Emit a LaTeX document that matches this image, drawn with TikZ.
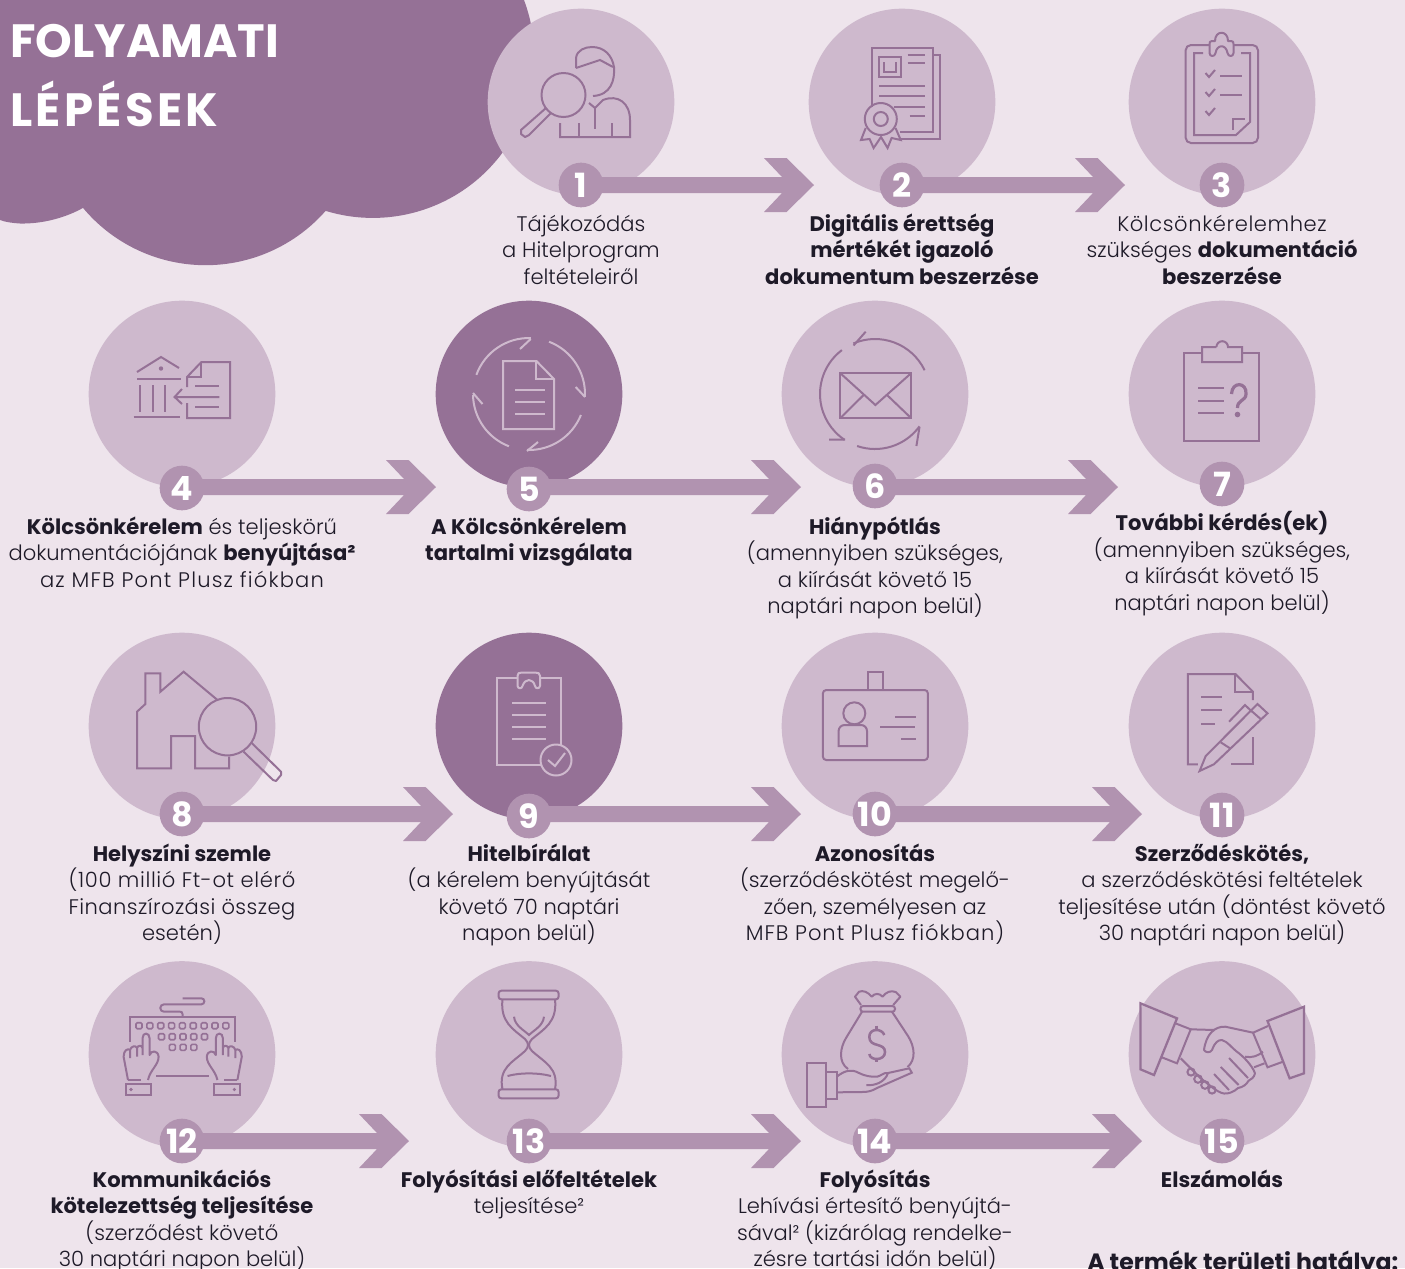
\documentclass[tikz,border=0pt]{standalone}
\usepackage{fontspec}
\setmainfont{Poppins Light}[BoldFont={Poppins Bold}]
\usetikzlibrary{calc}
\definecolor{pagebg}{HTML}{EEE4EC}
\definecolor{darkp}{HTML}{957196}
\definecolor{lightp}{HTML}{CEB9CD}
\definecolor{midp}{HTML}{B193B0}
\definecolor{inkc}{HTML}{1E1A28}
\pgfdeclarelayer{under}
\pgfsetlayers{under,main}
\newcommand{\tfont}{\fontsize{15.8}{19.875}\selectfont\lineskiplimit=-20pt\relax}
\newcommand{\spaced}[2]{{\addfontfeature{LetterSpace=#1}#2}}
\tikzset{
 stepdisc/.style={circle,fill=lightp,minimum size=140pt,inner sep=0pt},
 stepdiscdark/.style={stepdisc,fill=darkp},
 badge/.style={circle,fill=midp,minimum size=33.5pt,inner sep=0pt,text=white,font=\fontsize{25}{25}\selectfont\bfseries},
 steplabel/.style={anchor=north,align=center,inner sep=0pt,text=inkc,font=\tfont},
 ico/.style={draw=darkp,line width=1.5pt},
 icol/.style={draw=lightp,line width=1.5pt},
 titletext/.style={anchor=base west,inner sep=0pt,text=white,font=\fontsize{35}{35}\selectfont\bfseries},
}
\newcommand{\steptext}[4]{\node[steplabel] (#1) at (#2,{#3-18.55}) {\strut #4};}
\newcommand{\chevronarrow}[2]{%
 \fill[midp] ($(#1.center |- #2)+(0,-8)$) -- ([shift={(-32,-8)}]#2) -- ([shift={(-50,-27)}]#2) -- ([shift={(-27.5,-27)}]#2) -- (#2) -- ([shift={(-27.5,27)}]#2) -- ([shift={(-50,27)}]#2) -- ([shift={(-32,8)}]#2) -- ($(#1.center |- #2)+(0,8)$) -- cycle;}
\newcommand{\ringarc}[6]{\draw[#1] (#2,#3) ++(#5:#4) arc[start angle=#5,end angle=#6,radius=#4];}
\begin{document}
\begin{tikzpicture}[x=0.75pt,y=-0.75pt]
\clip (0,0) rectangle (1405,1268);
\begin{pgfonlayer}{under}
\fill[pagebg] (0,0) rectangle (1405,1268);
% cloud
\fill[darkp] (0,0) -- (524,0) arc[start angle=-20.5,end angle=107,radius=161.4]
  arc[start angle=41.3,end angle=140.1,radius=159.8]
  .. controls (65,218) and (42,224) .. (20,223.5) .. controls (12,223) and (5,222) .. (0,220) -- cycle;
% discs
\node[stepdisc] (d1) at (581,102) {};
\node[stepdisc] (d2) at (902,102) {};
\node[stepdisc] (d3) at (1222,102) {};
\node[stepdisc] (d4) at (182,394) {};
\node[stepdiscdark] (d5) at (529,394) {};
\node[stepdisc] (d6) at (875,394) {};
\node[stepdisc] (d7) at (1222,394) {};
\node[stepdisc] (d8) at (182,726) {};
\node[stepdiscdark] (d9) at (529,726) {};
\node[stepdisc] (d10) at (875,726) {};
\node[stepdisc] (d11) at (1222,726) {};
\node[stepdisc] (d12) at (182,1054.5) {};
\node[stepdisc] (d13) at (529,1054.5) {};
\node[stepdisc] (d14) at (875,1054.5) {};
\node[stepdisc] (d15) at (1222,1054.5) {};
% icon 1
\draw[ico] (563.5,95) circle (22);
\draw[ico,line join=round] (546,108) -- (521,130) -- (521,134) -- (525,137) -- (529,135) -- (551,113);
\draw[ico] (576,68) -- (576,58) .. controls (577,50) and (585,47) .. (592,47) .. controls (604,47) and (612,55) .. (614,67) .. controls (615,80) and (611,95) .. (593,96);
\draw[ico] (576,68) -- (600,60) -- (613,67);
\draw[ico] (589,103) -- (595,108) -- (603,100) .. controls (618,94) and (630,103) .. (630,120) -- (630,137) -- (560,137) -- (560,123);
\draw[ico] (579,123) -- (579,137) (595,108) -- (595,129) (612,123) -- (612,137);
% icon 2
\draw[ico] (932.6,55) -- (940,55) -- (940,139) -- (899.5,139);
\draw[ico] (871.6,107) -- (871.6,48) -- (932.6,48) -- (932.6,132) -- (899.5,132);
\draw[ico] (879,57) rectangle (901,77);
\draw[ico] (884.4,62) -- (884.4,72) -- (895.5,72) -- (895.5,62);
\draw[ico] (907.5,55) -- (925.4,55) (907.5,63) -- (925.4,63) (879,86) -- (925.4,86) (879,96) -- (925.4,96) (893.5,107) -- (925.4,107) (909.5,116) -- (925.4,116);
\draw[ico] (880.8,119) circle (16) (880.8,119) circle (7);
\draw[ico] (865.7,128) -- (861,140) -- (869.6,139) -- (873.6,148) -- (881,137) -- (887.6,148) -- (891.6,138) -- (900.7,140) -- (895.5,128);
% icon 3
\draw[ico,rounded corners=4pt] (1209.5,45) -- (1185.6,45) -- (1185.6,143) -- (1258,143) -- (1258,45) -- (1234,45);
\draw[ico,line join=round] (1215,41) .. controls (1215,30) and (1228,30) .. (1228,41) -- (1231,41) .. controls (1233,41) and (1233.5,42) .. (1233.5,44) -- (1233.5,53) .. controls (1233.5,57) and (1228,57) .. (1227.5,53) .. controls (1226,44) and (1217,44) .. (1215.5,53) .. controls (1215,57) and (1209.5,57) .. (1209.5,53) -- (1209.5,44) .. controls (1209.5,42) and (1210,41) .. (1212,41) -- cycle;
\draw[ico] (1203,53) -- (1194,53) -- (1194,135) -- (1236,135) -- (1250,122) -- (1250,53) -- (1241,53);
\draw[ico] (1233,130) -- (1233,119) -- (1245,119);
\draw[ico] (1205.5,73) -- (1209,77) -- (1215,70) (1205.5,92) -- (1209,96) -- (1215,89) (1205.5,111) -- (1209,115) -- (1215,108);
\draw[ico] (1220,76) -- (1242,76) (1220,95) -- (1242,95);
% icon 4
\draw[ico] (137,372) -- (161,357) -- (179,368);
\fill[darkp] (161,368.5) circle (2.2);
\draw[ico] (137,379) -- (181,379);
\draw[ico] (140,385) -- (140,412) (152.5,385) -- (152.5,412) (164.6,385) -- (164.6,412);
\draw[ico] (133.6,417) -- (180,417);
\draw[ico] (187,387) -- (187,377) -- (201.4,362) -- (230,362) -- (230,418) -- (187,418) -- (187,403);
\draw[ico] (201.4,362) -- (201.4,377) -- (187,377);
\draw[ico] (219.3,397) -- (174.6,397) (182,389) -- (174.6,397) -- (182,404);
\draw[ico] (195,386) -- (219.3,386) (195,407) -- (219.3,407);
% icon 5
\draw[icol] (503,361) -- (536.4,361) -- (554,379) -- (554,429) -- (503,429) -- cycle;
\draw[icol] (536.4,361) -- (536.4,379.3) -- (554,379.3);
\draw[icol] (515,390) -- (545,390) (515,402) -- (545,402) (515,414) -- (545,414);
\ringarc{icol}{529}{394}{56}{200}{272}
\ringarc{icol}{529}{394}{56}{291}{363}
\ringarc{icol}{529}{394}{56}{22}{92}
\ringarc{icol}{529}{394}{56}{111}{179}
\draw[icol] (530.7,339) -- (520,349) (585,397) -- (575.7,387) (527,451) -- (538,442) (473,393) -- (482.5,404);
% icon 6
\draw[ico] (840.4,373.3) rectangle (911,418);
\draw[ico] (840.4,373.3) -- (875.4,405) -- (911,373.3);
\draw[ico] (840.4,418) -- (863.6,395) (911,418) -- (887,395);
\ringarc{ico}{875}{394}{55}{334.4}{246.8}
\ringarc{ico}{875}{394}{55}{233}{123.7}
\ringarc{ico}{875}{394}{55}{109}{36}
\draw[ico] (853.5,345.5) -- (865.7,331.7) (845,439.5) -- (829,439.5) (919.5,427) -- (916.4,446);
% icon 7
\draw[ico] (1202,353) -- (1184,353) -- (1184,441) -- (1259,441) -- (1259,353) -- (1242,353);
\draw[ico] (1216.4,347) -- (1202,347) -- (1202,362) -- (1242,362) -- (1242,347) -- (1228,347) arc[start angle=0,end angle=-180,radius=5.8];
\draw[ico] (1198,388) -- (1224,388) (1198,401) -- (1224,401) (1198,413) -- (1224,413);
\draw[ico,line width=2.4pt] (1231.5,394) .. controls (1232,381) and (1247,382) .. (1246,394) .. controls (1246,401) and (1237,400) .. (1237.5,408);
\fill[darkp] (1237.5,414.5) circle (2.8);
% icon 8
\draw[ico] (217.5,700) -- (183.6,671.7) -- (160.4,691.7) -- (160.4,673.3) -- (145.4,673.3) -- (145.4,704) -- (137,711.7) -- (137,768.3) -- (171,768.3) -- (171,736) -- (195,736) -- (195,768.3) -- (229,768.3) -- (229,756.7);
\draw[ico] (227.5,726.7) circle (28.7);
\draw[ico,line join=round] (243.6,751.7) -- (273,780) -- (276,781) -- (281,775) -- (281,771.7) -- (251.4,742.7);
% icon 9
\draw[icol] (517.5,677.7) -- (497,677.7) -- (497,765) -- (540.7,765);
\draw[icol] (540,677.7) -- (561.4,677.7) -- (561.4,745);
\draw[icol,line join=round] (517.5,676) .. controls (517.5,673) and (519,672.7) .. (521,672.7) -- (536,672.7) .. controls (538,672.7) and (540,673) .. (540,676) -- (540,686) .. controls (539.5,689) and (535.5,689) .. (535,686) .. controls (533,678) and (525,678) .. (522.5,686) .. controls (522,689) and (518,689) .. (517.5,686) -- cycle;
\draw[icol] (512,703.3) -- (546,703.3) (512,715) -- (546,715) (512,727) -- (546,727) (512,739) -- (546,739);
\draw[icol] (556,760) circle (15.5);
\draw[icol] (548,760) -- (555,766) -- (565,753);
% icon 10
\draw[ico,rounded corners=2.5pt] (822.9,690) rectangle (927.9,760);
\draw[ico] (867.5,690) -- (867.5,672) -- (883.2,672) -- (883.2,690);
\draw[ico] (854.3,713.3) circle (11);
\draw[ico] (838.6,746) -- (838.6,731) arc[start angle=180,end angle=270,radius=6] -- (861,725) arc[start angle=270,end angle=360,radius=6] -- (867,746) -- cycle;
\draw[ico] (895,717.3) -- (915.7,717.3) (880,727.3) -- (915,727.3) (901,739.3) -- (915.7,739.3);
% icon 11
\draw[ico] (1197.9,764.3) -- (1187.9,764.3) -- (1187.9,674) -- (1235.4,674) -- (1252.9,691.7) -- (1252.9,700);
\draw[ico] (1235.4,674) -- (1235.4,692.3) -- (1252.9,692.3);
\draw[ico] (1252.9,737.3) -- (1252.9,764.3) -- (1230.7,764.3);
\draw[ico] (1201,697.3) -- (1221.8,697.3) (1201,710.3) -- (1221.8,710.3) (1201,724.3) -- (1215,724.3);
\draw[ico] (1199.6,771) -- (1205.7,756) -- (1257.5,704) -- (1267.5,713.3) -- (1213.9,764.3) -- cycle;
\draw[ico] (1250.4,710) -- (1261,719.3) (1220.7,742.3) -- (1230,748.3);
\draw[ico] (1229,721.7) -- (1245,705) -- (1252,711.7);
% icon 12
\draw[ico] (130,1041.7) -- (130,1016.7) -- (235.4,1016.7) -- (235.4,1041.7);
\draw[ico] (182.5,1016.7) -- (182.5,1014) .. controls (182.5,1012) and (181,1011.7) .. (180,1011.7) -- (164,1011.7) arc[start angle=90,end angle=270,radius=3.7] -- (201.4,1004.3) arc[start angle=90,end angle=-90,radius=3] -- (182.5,998.3);
\foreach \kx in {0,...,8} {\draw[ico,line width=1.2pt,rounded corners=1pt] ({139+\kx*10.85-3},1022.7) rectangle ++(6,6);}
\foreach \kx in {0,...,4} {\draw[ico,line width=1.2pt,rounded corners=1pt] ({161.5+\kx*10.75-3},1033.7) rectangle ++(6,6);}
\foreach \kx in {0,...,2} {\draw[ico,line width=1.2pt,rounded corners=1pt] ({172.3+\kx*10.75-3},1044.3) rectangle ++(6,6);}
\draw[ico] (156,1075.7) -- (208.6,1075.7);
\foreach \mirr/\shiftx in {1/0,-1/365.4} {
\begin{scope}[shift={(\shiftx,0)},xscale=\mirr]
\draw[ico,line join=round] (128,1080) -- (123.6,1056.7) .. controls (123.6,1050) and (128,1048) .. (130,1050) -- (130,1058) (130,1050) .. controls (131,1046) and (136,1045) .. (137,1048) -- (137,1056.7) (137,1048) .. controls (138,1045) and (142,1045) .. (142.5,1048) (142.5,1055) -- (142.5,1038.3) .. controls (142.5,1032) and (149.6,1032) .. (149.6,1038.3) -- (149.6,1055) .. controls (151,1050) and (158,1050) .. (158.6,1056.7) .. controls (158.6,1065) and (150,1070) .. (148,1080);
\draw[ico] (128,1080) -- (141.4,1080);
\draw[ico] (125.7,1084) rectangle (151.4,1095);
\fill[darkp] (131,1089.5) circle (1.8);
\end{scope}}
% icon 13
\draw[ico,rounded corners=2pt] (498.6,990.7) rectangle (558.6,999.3);
\draw[ico,rounded corners=2pt] (498.6,1089.3) rectangle (558.6,1098.3);
\draw[ico] (502.5,999.3) .. controls (500,1022) and (513,1029) .. (525,1039) .. controls (529,1043) and (529,1047) .. (525,1051) .. controls (513,1062) and (498,1068) .. (502.5,1089.3);
\draw[ico] (555,999.3) .. controls (557.5,1022) and (544,1029) .. (532,1039) .. controls (528,1043) and (528,1047) .. (532,1051) .. controls (544,1062) and (559,1068) .. (555,1089.3);
\draw[ico] (514,1016.7) .. controls (515,1026) and (524,1030) .. (529,1035) .. controls (534,1030) and (543,1026) .. (544,1016.7);
\draw[ico] (507.5,1076) .. controls (520,1072.5) and (538,1072.5) .. (551,1076);
% icon 14
\draw[ico] (806.8,1062.7) rectangle (826.4,1107);
\draw[ico] (826.4,1071.7) rectangle (836.8,1099.3);
\draw[ico] (836.8,1076.7) .. controls (845,1070) and (852,1069) .. (859,1073) .. controls (865,1076) and (871,1077) .. (877,1076.7) .. controls (881,1076) and (884,1072) .. (888,1073) -- (909.3,1068.3) -- (911.8,1072.7) -- (877,1088) .. controls (872,1091) and (868,1092) .. (862,1092) -- (836.8,1092.3);
\draw[ico] (866.4,1085) .. controls (875,1086) and (885,1082) .. (888,1073);
\draw[ico,rounded corners=2pt] (860.4,1006) rectangle (895,1011.7);
\draw[ico,line join=round] (861,1005) -- (855,996.7) -- (859,991.7) .. controls (863,990) and (868,992) .. (871.8,996.7) .. controls (874,993) and (880,993) .. (882.5,996.7) .. controls (886,992) and (891,990) .. (895.7,992) -- (900.4,996.7) -- (893.2,1005);
\draw[ico] (862,1011.7) -- (846,1038) .. controls (840,1048) and (838,1062) .. (848,1069);
\draw[ico] (892,1011.7) -- (908,1036) .. controls (915,1047) and (916,1060) .. (907.5,1067);
\draw[ico,line width=1.9pt] (884.3,1035) .. controls (882,1028) and (869,1028) .. (869.3,1037) .. controls (869.5,1048) and (885,1042) .. (885,1052) .. controls (885,1061) and (870,1061) .. (869.3,1054);
\draw[ico,line width=1.9pt] (876.5,1025.7) -- (876.5,1030) (876.5,1058) -- (876.5,1062);
% icon 15
\draw[ico,line width=1.7pt] (1140.4,1003.3) -- (1177,1018.3) -- (1154,1075) -- (1140.4,1069.3) -- cycle;
\draw[ico,line width=1.7pt] (1304,1006.7) -- (1267.5,1021) -- (1289.6,1078.3) -- (1304,1073.3) -- cycle;
\draw[ico] (1175.4,1023.3) -- (1190.7,1029.3) -- (1177,1063.3) -- (1161.8,1057.3);
\draw[ico] (1268,1026) -- (1253,1032.7) -- (1267.5,1067.3) -- (1283,1061.7);
\draw[ico] (1190.7,1029.3) -- (1214.6,1030);
\draw[ico,line join=round] (1253.2,1032.7) -- (1225.4,1026.7) .. controls (1215,1026) and (1206,1034) .. (1204,1050) .. controls (1206,1053) and (1210,1053) .. (1212,1050) .. controls (1215,1042) and (1218,1040) .. (1222,1040) .. controls (1228,1042) and (1231,1047) .. (1236,1051) .. controls (1243,1056) and (1252,1065) .. (1255,1073.3) .. controls (1254,1078) and (1251,1079) .. (1248.6,1080.7) .. controls (1246,1085) and (1243,1087) .. (1238,1088) .. controls (1234,1092) and (1228,1094) .. (1224,1093.5) .. controls (1220,1093) and (1216,1090) .. (1213,1088) -- (1200.4,1078) -- (1180.7,1058.3);
\draw[ico] (1229,1058) -- (1248,1078) (1220.7,1067) -- (1238.6,1085) (1214,1074) -- (1229,1090);
\draw[ico] (1245,1056.7) .. controls (1252,1058) and (1258,1056) .. (1262.9,1051.7) (1254,1067.3) -- (1264.5,1063.3);
\draw[ico] (1191,1072) circle (3.6) (1198,1079) circle (3.8) (1205,1085) circle (3.8) (1212,1090) circle (3.6);
\end{pgfonlayer}
% title
\node[titletext] (title1) at (10,57) {FOLYAMATI};
\node[titletext] (title2) at (10,126) {\spaced{7}{LÉPÉSEK}};
% badges
\node[badge] (b1) at (581,185) {1};
\node[badge] (b2) at (902,185) {2};
\node[badge] (b3) at (1222,185) {3};
\node[badge] (b4) at (182,488) {4};
\node[badge] (b5) at (529,489) {5};
\node[badge] (b6) at (875,486) {6};
\node[badge] (b7) at (1222,484) {7};
\node[badge] (b8) at (182,814) {8};
\node[badge] (b9) at (529,816) {9};
\node[badge] (b10) at (875,814) {10};
\node[badge] (b11) at (1222,815) {11};
\node[badge] (b12) at (182,1141) {12};
\node[badge] (b13) at (529,1141) {13};
\node[badge] (b14) at (875,1141) {14};
\node[badge] (b15) at (1222,1141) {15};
% labels
\steptext{t1}{581}{231}{Tájékozódás\\a Hitelprogram\\feltételeiről}
\steptext{t2}{902}{231}{\textbf{Digitális érettség}\\\textbf{mértékét igazoló}\\\textbf{dokumentum beszerzése}}
\steptext{t3}{1222}{231}{\spaced{2.8}{Kölcsönkérelemhez}\\szükséges \textbf{dokumentáció}\\\textbf{beszerzése}}
\steptext{t4}{182}{534}{\textbf{Kölcsönkérelem} és teljeskörű\\dokumentációjának \textbf{benyújtása²}\\\spaced{5.5}{az MFB Pont Plusz fiókban}}
\steptext{t5}{529}{534}{\textbf{A Kölcsönkérelem}\\\textbf{tartalmi vizsgálata}}
\steptext{t6}{875}{534}{\textbf{Hiánypótlás}\\(amennyiben szükséges,\\a kiírását követő 15\\naptári napon belül)}
\steptext{t7}{1222}{530}{\textbf{További kérdés(ek)}\\(amennyiben szükséges,\\a kiírását követő 15\\naptári napon belül)}
\steptext{t8}{182}{861}{\textbf{Helyszíni szemle}\\\spaced{3}{(100 millió Ft-ot elérő}\\\spaced{2}{Finanszírozási összeg}\\esetén)}
\steptext{t9}{529}{861}{\textbf{Hitelbírálat}\\(a kérelem benyújtását\\követő 70 naptári\\napon belül)}
\steptext{t10}{875}{861}{\textbf{Azonosítás}\\(szerződéskötést megelő-\\zően, személyesen az\\\spaced{4.5}{MFB Pont Plusz fiókban)}}
\steptext{t11}{1222}{861}{\textbf{Szerződéskötés,}\\a szerződéskötési feltételek\\teljesítése után (döntést követő\\30 naptári napon belül)}
\steptext{t12}{182}{1187}{\textbf{Kommunikációs}\\\textbf{kötelezettség teljesítése}\\(szerződést követő\\30 naptári napon belül)}
\steptext{t13}{529}{1187}{\textbf{Folyósítási előfeltételek}\\teljesítése²}
\steptext{t14}{875}{1187}{\textbf{Folyósítás}\\Lehívási értesítő benyújtá-\\sával² (kizárólag rendelke-\\zésre tartási időn belül)}
\steptext{t15}{1222}{1187}{\textbf{Elszámolás}}
\node[anchor=base west,inner sep=0pt,text=inkc,font=\fontsize{17.7}{20}\selectfont\bfseries] (scope) at (1087,1270) {A termék területi hatálya:};
% connectors
\coordinate (a1) at (814,185);
\coordinate (a2) at (1125,185);
\coordinate (a4) at (436,487);
\coordinate (a5) at (801,487);
\coordinate (a6) at (1118,487);
\coordinate (a8) at (453,814);
\coordinate (a9) at (801,814);
\coordinate (a10) at (1142,814);
\coordinate (a12) at (409,1141);
\coordinate (a13) at (801,1141);
\coordinate (a14) at (1142,1141);
\begin{pgfonlayer}{under}
\chevronarrow{b1}{a1}
\chevronarrow{b2}{a2}
\chevronarrow{b4}{a4}
\chevronarrow{b5}{a5}
\chevronarrow{b6}{a6}
\chevronarrow{b8}{a8}
\chevronarrow{b9}{a9}
\chevronarrow{b10}{a10}
\chevronarrow{b12}{a12}
\chevronarrow{b13}{a13}
\chevronarrow{b14}{a14}
\end{pgfonlayer}
\end{tikzpicture}
\end{document}
